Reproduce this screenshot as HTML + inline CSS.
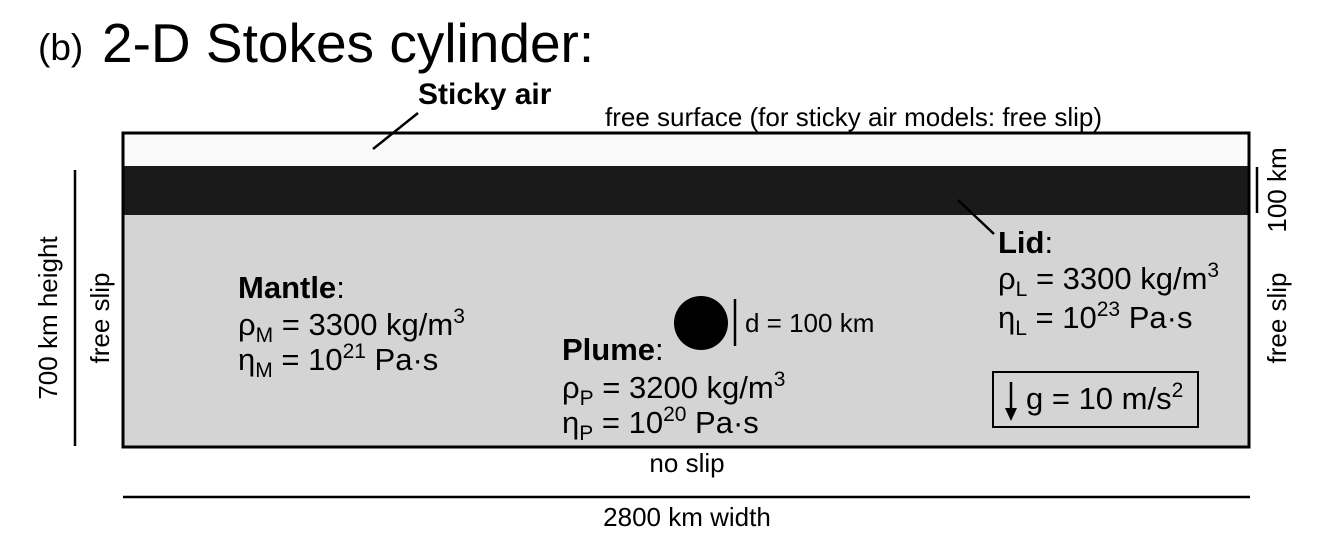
<!DOCTYPE html>
<html><head><meta charset="utf-8"><style>
body{margin:0;background:#fff;width:1319px;height:536px;overflow:hidden}
svg{display:block;font-family:"Liberation Sans",sans-serif}
</style></head><body>
<svg width="1319" height="536" viewBox="0 0 1319 536">
<text x="38" y="60" font-size="37">(b)</text>
<text x="102" y="62" font-size="55">2-D Stokes cylinder:</text>

<rect x="123" y="133" width="1126" height="33" fill="#fafafa"/>
<rect x="123" y="166" width="1126" height="49" fill="#1a1a1a"/>
<rect x="123" y="215" width="1126" height="232" fill="#d4d4d4"/>
<rect x="123" y="133" width="1126" height="314" fill="none" stroke="#000" stroke-width="3"/>

<text x="418" y="104" font-size="30" font-weight="bold">Sticky air</text>
<line x1="418" y1="113" x2="373" y2="149" stroke="#000" stroke-width="2.5"/>
<text x="605" y="126" font-size="26">free surface (for sticky air models: free slip)</text>

<line x1="1257" y1="167" x2="1257" y2="213" stroke="#000" stroke-width="2.5"/>
<text transform="translate(1286,190) rotate(-90)" font-size="26" text-anchor="middle">100 km</text>
<text transform="translate(1286,318) rotate(-90)" font-size="26" text-anchor="middle">free slip</text>

<line x1="958" y1="200" x2="994" y2="234" stroke="#000" stroke-width="2.5"/>
<text x="998" y="253" font-size="31"><tspan font-weight="bold">Lid</tspan>:</text>
<text x="998" y="289" font-size="31">ρ<tspan font-size="21" dy="7">L</tspan><tspan dy="-7"> = 3300 kg/m</tspan><tspan font-size="21" dy="-12">3</tspan></text>
<text x="998" y="328" font-size="31">η<tspan font-size="21" dy="7">L</tspan><tspan dy="-7"> = 10</tspan><tspan font-size="21" dy="-12">23</tspan><tspan dy="12"> Pa·s</tspan></text>

<rect x="993" y="372" width="205" height="55" fill="none" stroke="#000" stroke-width="2"/>
<line x1="1011" y1="382" x2="1011" y2="414" stroke="#000" stroke-width="2.5"/>
<path d="M1005 408 L1011 421 L1017 408 Z" fill="#000"/>
<text x="1026" y="409" font-size="31">g = 10 m/s<tspan font-size="21" dy="-12">2</tspan></text>

<text x="238" y="298" font-size="31"><tspan font-weight="bold">Mantle</tspan>:</text>
<text x="238" y="335" font-size="31">ρ<tspan font-size="21" dy="7">M</tspan><tspan dy="-7"> = 3300 kg/m</tspan><tspan font-size="21" dy="-12">3</tspan></text>
<text x="238" y="370" font-size="31">η<tspan font-size="21" dy="7">M</tspan><tspan dy="-7"> = 10</tspan><tspan font-size="21" dy="-12">21</tspan><tspan dy="12"> Pa·s</tspan></text>

<circle cx="701" cy="323" r="27" fill="#000"/>
<line x1="735" y1="299" x2="735" y2="346" stroke="#000" stroke-width="2.5"/>
<text x="745" y="332" font-size="26">d = 100 km</text>
<text x="562" y="360" font-size="31"><tspan font-weight="bold">Plume</tspan>:</text>
<text x="562" y="398" font-size="31">ρ<tspan font-size="21" dy="7">P</tspan><tspan dy="-7"> = 3200 kg/m</tspan><tspan font-size="21" dy="-12">3</tspan></text>
<text x="562" y="433" font-size="31">η<tspan font-size="21" dy="7">P</tspan><tspan dy="-7"> = 10</tspan><tspan font-size="21" dy="-12">20</tspan><tspan dy="12"> Pa·s</tspan></text>

<line x1="75" y1="170" x2="75" y2="446" stroke="#000" stroke-width="2.5"/>
<text transform="translate(57,318) rotate(-90)" font-size="26" text-anchor="middle">700 km height</text>
<text transform="translate(109,318) rotate(-90)" font-size="26" text-anchor="middle">free slip</text>

<text x="687" y="472" font-size="26" text-anchor="middle">no slip</text>
<line x1="123" y1="497" x2="1250" y2="497" stroke="#000" stroke-width="2.5"/>
<text x="687" y="526" font-size="26" text-anchor="middle">2800 km width</text>
</svg>
</body></html>
